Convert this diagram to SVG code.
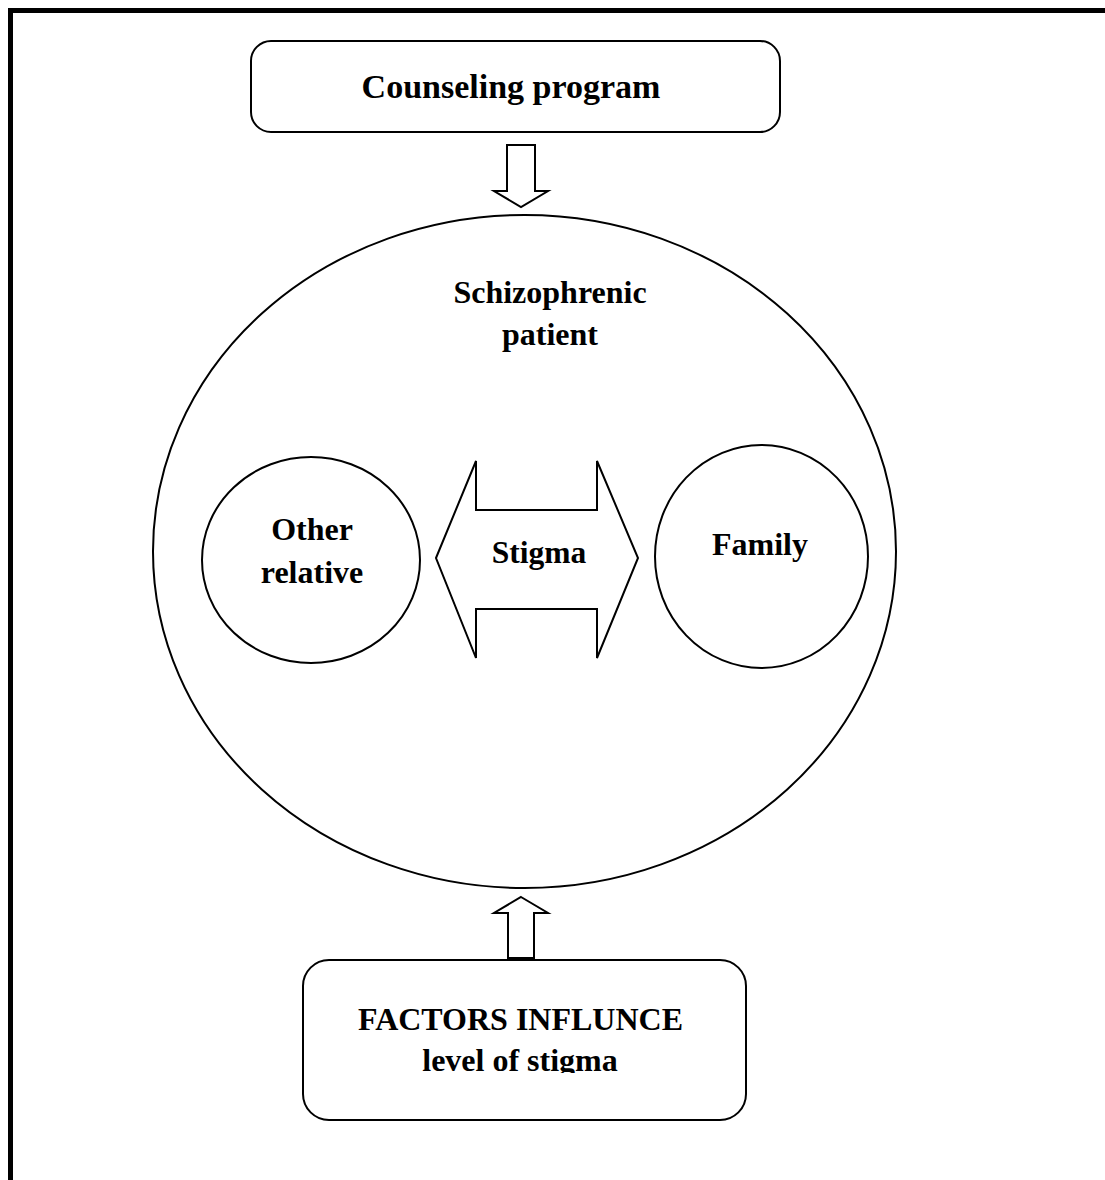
<svg xmlns="http://www.w3.org/2000/svg" width="1105" height="1180" viewBox="0 0 1105 1180">
<style>
  .shape { fill: #fff; stroke: #000; stroke-width: 2; }
  .arrow { fill: #fff; stroke: #000; stroke-width: 2; stroke-linejoin: miter; }
  .t { font-family: "Liberation Serif", "Times New Roman", serif; font-weight: bold; font-size: 32px; fill: #000; text-anchor: middle; }
</style>
<defs>
  <clipPath id="clipLevel"><rect x="300" y="1040" width="450" height="33"/></clipPath>
</defs>
<rect width="1105" height="1180" fill="#fff"/>
<rect x="10.5" y="10.5" width="1200" height="1300" fill="none" stroke="#000" stroke-width="5"/>

<g id="counseling">
  <rect class="shape" x="251" y="41" width="529" height="91" rx="20" ry="20"/>
  <text class="t" x="511" y="98" style="font-size:34px">Counseling program</text>
</g>

<g id="patient">
  <ellipse class="shape" cx="524.5" cy="551.5" rx="371.5" ry="336.5"/>
  <text class="t" x="550" y="303">Schizophrenic</text>
  <text class="t" x="550" y="345">patient</text>
</g>

<g id="other-relative">
  <ellipse class="shape" cx="311" cy="560" rx="109" ry="103"/>
  <text class="t" x="312" y="540">Other</text>
  <text class="t" x="312" y="583">relative</text>
</g>

<g id="family">
  <ellipse class="shape" cx="761.5" cy="556.5" rx="106.5" ry="111.5"/>
  <text class="t" x="760" y="555">Family</text>
</g>

<g id="stigma">
  <polygon class="arrow" points="436,558 476,461 476,510 597,510 597,461 638,558 597,658 597,609 476,609 476,658"/>
  <text class="t" x="539" y="563" style="font-size:31.5px">Stigma</text>
</g>

<g id="factors">
  <rect class="shape" x="303" y="960" width="443" height="160" rx="26" ry="26"/>
  <text class="t" x="520.5" y="1030">FACTORS INFLUNCE</text>
  <text class="t" x="520" y="1071" clip-path="url(#clipLevel)">level of stigma</text>
</g>

<g id="connectors">
  <polygon class="arrow" points="507,145 535,145 535,191 548,191 521,207 494,191 507,191"/>
  <polygon class="arrow" points="521,897 548,913 534,913 534,958 508,958 508,913 494,913"/>
</g>
</svg>
